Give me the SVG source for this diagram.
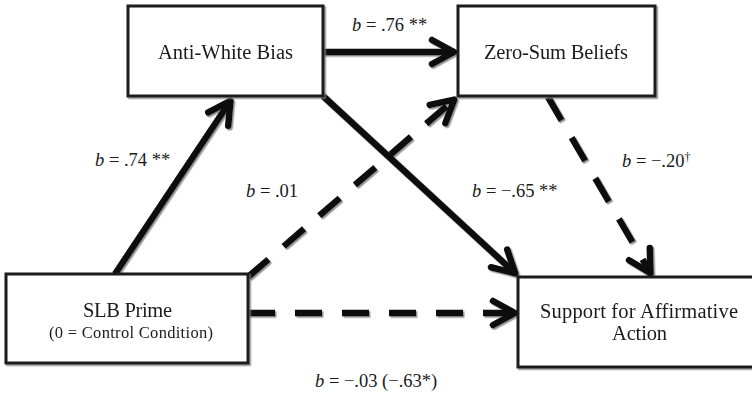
<svg xmlns="http://www.w3.org/2000/svg" width="752" height="396" viewBox="0 0 752 396">
  <style>
    .box { fill: #ffffff; stroke: #1a1a1a; stroke-width: 3; }
    .t { font-family: "Liberation Serif", "Times New Roman", serif; fill: #1a1a1a; }
    .node { font-size: 20.5px; text-anchor: middle; }
    .small { font-size: 16.5px; text-anchor: middle; }
    .lbl { font-size: 18.5px; }
    .b { font-style: italic; }
    .solid { fill: none; stroke: #111; stroke-width: 6.5; stroke-linecap: butt; }
    .dash { fill: none; stroke: #111; stroke-width: 6.5; stroke-dasharray: 27 20; stroke-linecap: butt; }
  </style>
  <defs>
    <filter id="sh" x="-10%" y="-10%" width="120%" height="120%">
      <feDropShadow dx="1.5" dy="1.5" stdDeviation="0.6" flood-color="#777" flood-opacity="0.8"/>
    </filter>
    <marker id="arr" markerUnits="userSpaceOnUse" markerWidth="60" markerHeight="60" refX="0" refY="0" orient="auto" overflow="visible">
      <path d="M-23,-12 L-1,0 L-23,12" fill="none" stroke="#111" stroke-width="6.5" stroke-linecap="round" stroke-linejoin="round" stroke-dasharray="none"/>
    </marker>
  </defs>
  <rect width="752" height="396" fill="#ffffff"/>

  <g id="connectors" filter="url(#sh)">
    <line class="solid" x1="323" y1="52" x2="455" y2="52" marker-end="url(#arr)"/>
    <line class="solid" x1="115" y1="274" x2="231" y2="100" marker-end="url(#arr)"/>
    <line class="solid" x1="323" y1="96" x2="516" y2="274" marker-end="url(#arr)"/>
    <line class="dash" x1="248" y1="277" x2="455" y2="99" marker-end="url(#arr)"/>
    <line class="dash" x1="548" y1="97" x2="651" y2="274" marker-end="url(#arr)"/>
    <line class="dash" x1="248" y1="313" x2="516" y2="313" marker-end="url(#arr)"/>
  </g>

  <g id="anti-white-bias" filter="url(#sh)">
    <rect class="box" x="128" y="6" width="195" height="90"/>
    <text class="t node" x="225.5" y="59" textLength="135">Anti-White Bias</text>
  </g>
  <g id="zero-sum-beliefs" filter="url(#sh)">
    <rect class="box" x="458" y="6" width="197" height="90"/>
    <text class="t node" x="556" y="59" textLength="144">Zero-Sum Beliefs</text>
  </g>
  <g id="slb-prime" filter="url(#sh)">
    <rect class="box" x="6" y="274" width="242" height="89"/>
    <text class="t node" x="127.5" y="317" textLength="89">SLB Prime</text>
    <text class="t small" x="131" y="338" textLength="164">(0 = Control Condition)</text>
  </g>
  <g id="support-affirmative-action" filter="url(#sh)">
    <rect class="box" x="518" y="277" width="245" height="90"/>
    <text class="t node" x="639" y="318" textLength="198">Support for Affirmative</text>
    <text class="t node" x="639.5" y="340" textLength="55">Action</text>
  </g>

  <g id="labels">
    <text class="t lbl" x="352" y="31"><tspan class="b">b</tspan> = .76 **</text>
    <text class="t lbl" x="95" y="166"><tspan class="b">b</tspan> = .74 **</text>
    <text class="t lbl" x="246" y="197"><tspan class="b">b</tspan> = .01</text>
    <text class="t lbl" x="622" y="167"><tspan class="b">b</tspan> = −.20<tspan font-size="12" dy="-6">†</tspan></text>
    <text class="t lbl" x="472" y="197"><tspan class="b">b</tspan> = −.65 **</text>
    <text class="t lbl" x="315" y="387"><tspan class="b">b</tspan> = −.03 (−.63*)</text>
  </g>
</svg>
